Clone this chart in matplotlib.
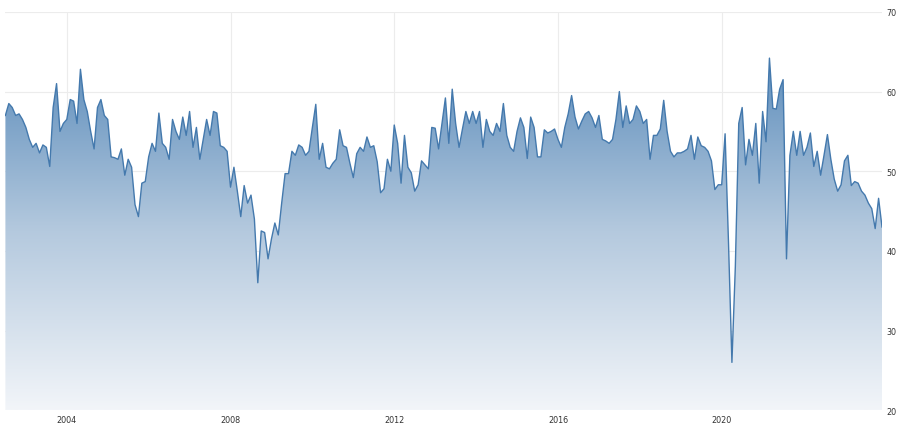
import matplotlib
matplotlib.use("Agg")
import matplotlib.pyplot as plt
import numpy as np
import pandas as pd

# monthly values, Jul 2002 .. Dec 2023
v2002 = [57, 58.5, 58, 57, 57.2, 56.5]
v2003 = [55.5, 54, 53, 53.5, 52.3, 53.3, 53, 50.6, 58, 61, 55, 56]
v2004 = [56.5, 59, 58.8, 56, 62.8, 59, 57.5, 55, 52.8, 58, 59, 57]
v2005 = [56.5, 51.8, 51.7, 51.5, 52.8, 49.5, 51.5, 50.5, 45.8, 44.3, 48.5, 48.7]
v2006 = [51.8, 53.5, 52.5, 57.3, 53.5, 53, 51.5, 56.5, 55, 54, 56.8, 54.5]
v2007 = [57.5, 53, 55.5, 51.5, 54, 56.5, 54.5, 57.5, 57.3, 53.2, 53, 52.5]
v2008 = [48, 50.5, 47.5, 44.3, 48.2, 46, 47, 44, 36, 42.5, 42.3, 39]
v2009 = [41.5, 43.5, 42, 46, 49.7, 49.7, 52.5, 52, 53.3, 53, 52, 52.5]
v2010 = [55.5, 58.4, 51.5, 53.5, 50.5, 50.3, 51, 51.5, 55.2, 53.2, 53, 51]
v2011 = [49.2, 52.2, 53, 52.5, 54.3, 53, 53.2, 51.2, 47.3, 47.8, 51.5, 50]
v2012 = [55.8, 53.5, 48.5, 54.5, 50.5, 49.8, 47.5, 48.3, 51.3, 50.8, 50.3, 55.5]
v2013 = [55.4, 52.8, 56, 59.2, 53.5, 60.3, 56, 53, 55.3, 57.5, 56, 57.5]
v2014 = [56, 57.5, 53, 56.5, 55, 54.5, 56, 55, 58.5, 54.5, 53, 52.5]
v2015 = [55, 56.7, 55.5, 51.6, 56.8, 55.5, 51.8, 51.8, 55.2, 54.8, 55, 55.3]
v2016 = [54, 53, 55.5, 57.2, 59.5, 56.8, 55.3, 56.3, 57.2, 57.5, 56.7, 55.5]
v2017 = [57, 54, 53.8, 53.5, 54, 56.5, 60, 55.5, 58.2, 56, 56.5, 58.2]
v2018 = [57.5, 56, 56.5, 51.5, 54.5, 54.5, 55.3, 58.9, 55, 52.5, 51.8, 52.3]
v2019 = [52.3, 52.5, 52.8, 54.5, 51.5, 54.3, 53.2, 53, 52.5, 51.3, 47.7, 48.3]
v2020 = [48.3, 54.7, 41, 26, 38, 56, 58, 50.8, 54, 52, 56, 48.5]
v2021 = [57.5, 53.7, 64.2, 57.9, 57.8, 60.3, 61.5, 39, 52, 55, 52, 55]
v2022 = [52, 53, 54.8, 50.6, 52.5, 49.5, 52, 54.6, 51.5, 49, 47.5, 48.3]
v2023 = [51.3, 52, 48.2, 48.7, 48.5, 47.5, 47, 46, 45.3, 42.8, 46.6, 43]

values = (v2002 + v2003 + v2004 + v2005 + v2006 + v2007 + v2008 + v2009 + v2010
          + v2011 + v2012 + v2013 + v2014 + v2015 + v2016 + v2017 + v2018
          + v2019 + v2020 + v2021 + v2022 + v2023)
dates = pd.date_range("2002-07-01", periods=len(values), freq="MS")
x = 2002.5 + np.arange(len(values)) / 12.0

y_ticks = [20, 30, 40, 50, 60, 70]
x_ticks = [2004, 2008, 2012, 2016, 2020]

LINE = "#4479ad"
GRID = "#ececec"

fig = plt.figure(figsize=(9.0, 4.31), dpi=100)
ax = fig.add_axes([0.006, 0.046, 0.974, 0.924])

ax.set_xlim(x[0], x[-1])
ax.set_ylim(20, 70)

poly = ax.fill_between(x, values, 20, color="none", lw=0)
grad = np.linspace(0, 1, 256).reshape(-1, 1)
cmap = matplotlib.colors.LinearSegmentedColormap.from_list(
    "g", ["#f2f5f9", "#b4c9de", "#5a8bba"])
img = ax.imshow(grad, aspect="auto", cmap=cmap, origin="lower",
                extent=[x[0], x[-1], 20, 65], zorder=1)
img.set_clip_path(poly.get_paths()[0], transform=ax.transData)
ax.plot(x, values, color=LINE, lw=1.0, zorder=3)

ax.set_yticks(y_ticks)
ax.set_xticks(x_ticks)
ax.set_xticklabels([str(t) for t in x_ticks])
ax.yaxis.tick_right()
ax.tick_params(axis="both", length=0, labelsize=5.8, colors="#333333")
ax.tick_params(axis="y", pad=3)
ax.grid(True, color=GRID, lw=0.8, zorder=0)
ax.set_axisbelow(True)
for s in ax.spines.values():
    s.set_visible(False)

fig.savefig("out.png", dpi=100)
